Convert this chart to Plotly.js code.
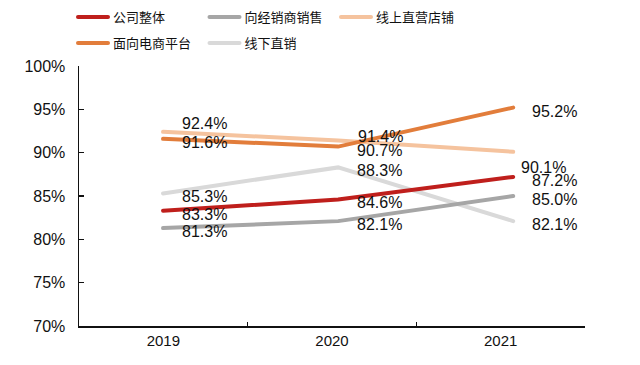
<!DOCTYPE html>
<html>
<head>
<meta charset="utf-8">
<script src="https://cdn.plot.ly/plotly-3.0.1.min.js"></script>
<style>
  html, body { margin: 0; padding: 0; background: #ffffff; }
  #chart { width: 640px; height: 365px; }
  .scatterlayer path.js-line, .legendlines path { stroke-linecap: round; }
</style>
</head>
<body>
<div id="chart"></div>
<script>
// ---- data ----
var years = ['2019', '2020', '2021'];
var seriesNames = ['公司整体', '向经销商销售', '线上直营店铺', '面向电商平台', '线下直销'];
var companyTotal = [83.3, 84.6, 87.2];
var toDealers = [81.3, 82.1, 85.0];
var onlineStores = [92.4, 91.4, 90.1];
var ecPlatforms = [91.6, 90.7, 95.2];
var offlineDirect = [85.3, 88.3, 82.1];
var yTicks = [70, 75, 80, 85, 90, 95, 100];
var yTickText = ['70%', '75%', '80%', '85%', '90%', '95%', '100%'];

// ---- styles ----
var seriesData = [companyTotal, toDealers, onlineStores, ecPlatforms, offlineDirect];
var colors = ['#bf1f1c', '#a6a6a6', '#f5c39e', '#e27d3b', '#d9d9d9'];
var legendOf = ['legend', 'legend', 'legend', 'legend2', 'legend2'];
var drawOrder = [4, 2, 3, 1, 0];
var FONT = 'Liberation Sans, Arial, Noto Sans CJK SC, sans-serif';

// label offsets (pixels) by series index & point index; default below-right
function labelShift(s, i) {
  if (s === 2 && i === 0) return {x: 17, y: 8};
  if (s === 2 && i === 1) return {x: 18, y: 4.5};
  if (s === 2 && i === 2) return {x: 6, y: -16};
  return {x: 17, y: -3.5};
}

var xIdx = years.map(function (_, i) { return i; });
var traces = [];
var annotations = [];
drawOrder.forEach(function (s) {
  traces.push({
    type: 'scatter',
    mode: 'lines',
    x: xIdx,
    y: seriesData[s],
    xaxis: 'x2',
    name: seriesNames[s],
    legend: legendOf[s],
    legendrank: s,
    line: {color: colors[s], width: 4},
    hoverinfo: 'skip'
  });
});

seriesData.forEach(function (vals, s) {
  vals.forEach(function (v, i) {
    var sh = labelShift(s, i);
    annotations.push({
      xref: 'x2', yref: 'y', x: i, y: v,
      text: v.toFixed(1) + '%',
      showarrow: false, xanchor: 'left', yanchor: 'middle',
      xshift: sh.x, yshift: sh.y,
      font: {family: FONT, size: 16, color: '#111111'}
    });
  });
});

// dummy trace to hold the category axis
traces.push({
  type: 'scatter', mode: 'markers', x: years, y: [null, null, null],
  xaxis: 'x', showlegend: false, hoverinfo: 'skip'
});

var legendCommon = {
  orientation: 'h', xanchor: 'left', yanchor: 'middle',
  xref: 'container', yref: 'container',
  entrywidth: 86.5, entrywidthmode: 'pixels',
  font: {family: FONT, size: 13, color: '#111111'},
  traceorder: 'normal', bgcolor: 'rgba(0,0,0,0)', borderwidth: 0
};

var layout = {
  width: 640, height: 365,
  margin: {l: 79, r: 55, t: 66, b: 39},
  paper_bgcolor: '#ffffff', plot_bgcolor: '#ffffff',
  font: {family: FONT, color: '#111111'},
  showlegend: true,
  xaxis: {
    type: 'category', range: [-0.5, 2.5],
    showline: true, linecolor: '#111111', linewidth: 1.5,
    ticks: 'inside', ticklen: 4, tickwidth: 1.5, tickcolor: '#111111',
    tickson: 'boundaries',
    showgrid: false, zeroline: false,
    tickfont: {family: FONT, size: 15, color: '#111111'}
  },
  xaxis2: {
    overlaying: 'x', range: [-0.48, 2.41], visible: false,
    showgrid: false, zeroline: false
  },
  yaxis: {
    range: [70, 100], tickmode: 'array', tickvals: yTicks, ticktext: yTickText,
    showline: true, linecolor: '#111111', linewidth: 1.5,
    ticks: 'inside', ticklen: 5, tickwidth: 1.5, tickcolor: '#111111',
    showgrid: false, zeroline: false,
    ticklabelstandoff: 9,
    tickfont: {family: FONT, size: 16, color: '#111111'}
  },
  legend: Object.assign({}, legendCommon, {x: 73 / 640, y: 1 - 17 / 365}),
  legend2: Object.assign({}, legendCommon, {x: 73 / 640, y: 1 - 43 / 365}),
  annotations: annotations
};

Plotly.newPlot('chart', traces, layout, {displayModeBar: false, staticPlot: true});
</script>
</body>
</html>
